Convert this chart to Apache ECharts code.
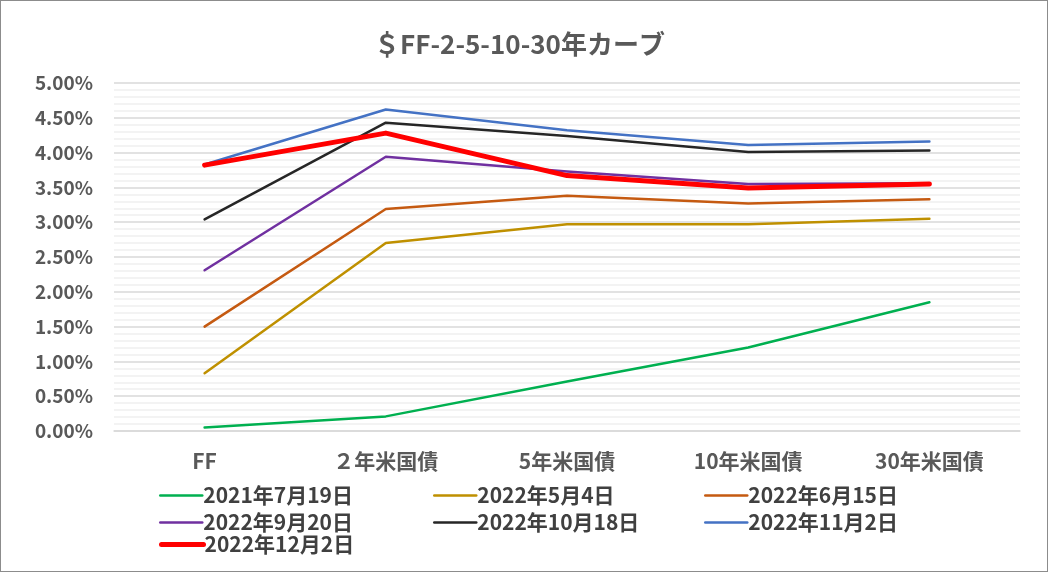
<!DOCTYPE html>
<html>
<head>
<meta charset="utf-8">
<script src="https://cdn.jsdelivr.net/npm/echarts@6/dist/echarts.min.js"></script>
<style>
    html, body { margin: 0; padding: 0; background: #fff; }
    #chart { width: 1048px; height: 572px; box-sizing: border-box; border: 1px solid #8c8c8c; }
</style>
</head>
<body>
<div id="chart"></div>
<script>
(function (win) {
    var FONT = '"Noto Sans CJK JP", "Noto Sans", sans-serif';

    // カテゴリ
    var categories = ['FF', '２年米国債', '5年米国債', '10年米国債', '30年米国債'];

    // 各日付の利回り(%)
    var names = ['2021年7月19日', '2022年5月4日', '2022年6月15日', '2022年9月20日', '2022年10月18日', '2022年11月2日', '2022年12月2日'];
    var jul19 = [0.05, 0.21, 0.71, 1.20, 1.85];
    var may4 = [0.83, 2.70, 2.97, 2.97, 3.05];
    var jun15 = [1.50, 3.19, 3.38, 3.27, 3.33];
    var sep20 = [2.31, 3.94, 3.73, 3.55, 3.56];
    var oct18 = [3.04, 4.43, 4.24, 4.01, 4.03];
    var nov2 = [3.83, 4.62, 4.32, 4.11, 4.16];
    var dec2 = [3.82, 4.28, 3.67, 3.49, 3.55];

    var values = [jul19, may4, jun15, sep20, oct18, nov2, dec2];
    var colors = ['#00B050', '#BF9000', '#C55A11', '#7030A0', '#262626', '#4472C4', '#FF0000'];
    var widths = [2.5, 2.5, 2.5, 2.5, 2.5, 2.5, 5];

    var chart = echarts.init(document.getElementById('chart'));

    var series = [];
    for (var i = 0; i < names.length; i++) {
        series.push({
            name: names[i],
            type: 'line',
            data: values[i],
            symbol: 'none',
            silent: true,
            color: colors[i],
            lineStyle: { width: widths[i], color: colors[i], cap: 'round', join: 'round' }
        });
    }

    //凡例(列ごと)
    function legend(left, top, data) {
        return {
            orient: 'vertical',
            left: left,
            top: top,
            itemWidth: 42,
            itemHeight: 16,
            itemGap: 6,
            padding: 0,
            data: data,
            itemStyle: { opacity: 0 },
            lineStyle: { width: 'inherit' },
            textStyle: {
                fontFamily: FONT,
                fontSize: 21,
                lineHeight: 16,
                fontWeight: 'bold',
                color: '#404040',
                padding: [0, 0, 0, -4]
            }
        };
    }

    chart.setOption({
        animation: false,
        title: {
            text: '＄FF-2-5-10-30年カーブ',
            left: 368,
            top: 25,
            textStyle: { fontFamily: FONT, fontSize: 26, fontWeight: 'bold', color: '#595959' }
        },
        legend: [
            legend(158, 484, [names[0], names[3]]),
            legend(158, 533, [names[6]]),
            legend(432, 484, [names[1], names[4]]),
            legend(703, 484, [names[2], names[5]])
        ],
        grid: { left: 113, right: 27, top: 82, bottom: 140 },
        xAxis: {
            type: 'category',
            data: categories,
            boundaryGap: true,
            axisLine: { lineStyle: { color: '#D9D9D9', width: 1.5 } },
            axisTick: { show: false },
            axisLabel: { margin: 20, fontFamily: FONT, fontSize: 21, fontWeight: 'bold', color: '#595959' }
        },
        yAxis: {
            type: 'value',
            min: 0,
            max: 5,
            interval: 0.5,
            axisLine: { show: false },
            axisTick: { show: false },
            axisLabel: {
                margin: 21,
                fontFamily: FONT,
                fontSize: 19,
                fontWeight: 'bold',
                color: '#595959',
                formatter: function (v) { return v.toFixed(2) + '%'; }
            },
            splitLine: { lineStyle: { color: '#D9D9D9', width: 1.5 } },
            minorTick: { show: false, splitNumber: 5 },
            minorSplitLine: { show: true, lineStyle: { color: '#F0F0F0', width: 1.5 } }
        },
        series: series
    });
})(this);
</script>
</body>
</html>
